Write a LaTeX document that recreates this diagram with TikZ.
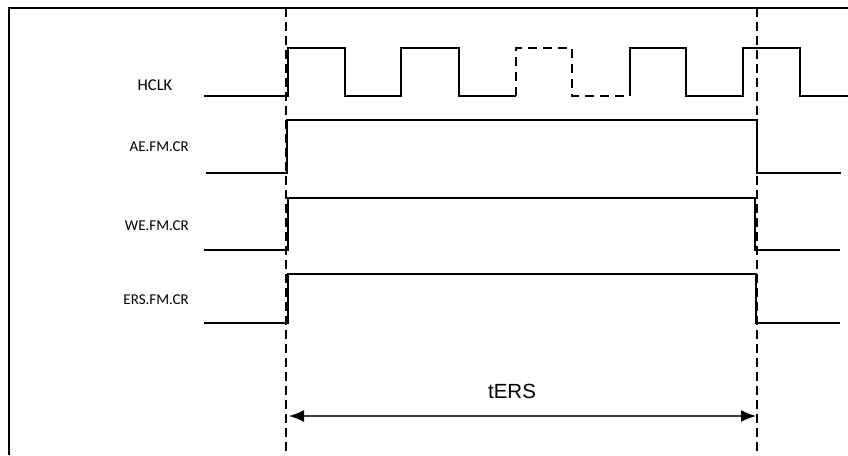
\documentclass[tikz,border=0pt]{standalone}
\usepackage{fontspec}
\setmainfont{Carlito}
\newfontfamily\arialfont{Liberation Sans}
\usetikzlibrary{arrows.meta}

\begin{document}
\begin{tikzpicture}[x=1pt, y=-1pt,
    signal/.style={line width=2.4pt, line join=miter},
    guide/.style={line width=2.2pt, dash pattern=on 9pt off 5pt},
    sig label/.style={font=\fontsize{15}{17}\selectfont, inner sep=0pt}]
    \useasboundingbox (0,0) rectangle (848,455);

    % Frame
    \draw[line width=1.8pt] (9,455) -- (9,8) -- (848,8);

    % Nodes
    \node[sig label, font=\fontsize{16.5}{18}\selectfont] at (155, 85) (hclk) {HCLK};
    \node[sig label, anchor=east] at (189, 147) (ae) {AE.FM.CR};
    \node[sig label, anchor=east] at (189, 226) (we) {WE.FM.CR};
    \node[sig label, anchor=east] at (189, 300) (ers) {ERS.FM.CR};
    \node[font=\arialfont\fontsize{20.5}{22}\selectfont, inner sep=0pt] at (512, 391) (ters) {tERS};

    % Guides
    \draw[guide] (286,8) -- (286,455);
    \draw[guide] (757,8) -- (757,455);

    % HCLK
    \draw[signal] (204,96) -- (288,96) -- (288,48) -- (345,48) -- (345,96) -- (401,96)
        -- (401,48) -- (459,48) -- (459,96) -- (516,96);
    \draw[signal, dash pattern=on 9pt off 6pt] (516,96) -- (516,48) -- (572,48) -- (572,96) -- (630,96);
    \draw[signal] (630,96) -- (630,48) -- (686,48) -- (686,96) -- (743,96) -- (743,48)
        -- (800,48) -- (800,96) -- (848,96);

    % AE.FM.CR
    \draw[signal] (206,173) -- (287,173) -- (287,120) -- (757,120) -- (757,173) -- (841,173);

    % WE.FM.CR
    \draw[signal] (204,250) -- (288,250) -- (288,198) -- (755,198) -- (755,250) -- (840,250);

    % ERS.FM.CR
    \draw[signal] (204,323) -- (288,323) -- (288,274) -- (756,274) -- (756,323) -- (840,323);

    % tERS
    \coordinate (start) at (289,416);
    \coordinate (stop) at (756,416);
    \draw[line width=1.5pt, black!75, {Latex[length=15pt,width=12pt,black]}-{Latex[length=15pt,width=12pt,black]}] (start) -- (stop);
\end{tikzpicture}
\end{document}
